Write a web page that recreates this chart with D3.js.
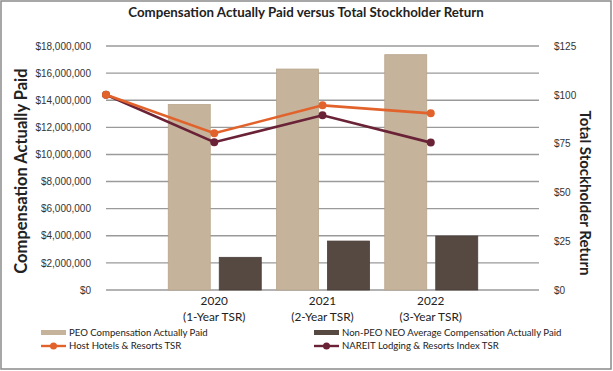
<!DOCTYPE html>
<html>
<head>
<meta charset="utf-8">
<script src="https://cdn.jsdelivr.net/npm/d3@7"></script>
<style>
  body { margin: 0; background: #fff; }
  svg { font-family: Lato, "Open Sans", sans-serif; }
  .grid line { stroke: #9a9a9a; stroke-width: 1.4; }
  .axis { color: #333; }
</style>
</head>
<body>
<svg id="chart" width="613" height="371"></svg>
<script>
// periods: index 0 is the starting point of the TSR lines (base $100)
const periods = ["", "2020", "2021", "2022"];
const periodNotes = ["", "(1-Year TSR)", "(2-Year TSR)", "(3-Year TSR)"];

const peoCap = [null, 13680000, 16300000, 17360000];
const neoCap = [null, 2410000, 3610000, 3980000];
const hostTsr = [100, 80.3, 94.6, 90.5];
const nareitTsr = [100, 75.7, 89.5, 75.5];

const leftTicks = d3.range(0, 18000001, 2000000);
const rightTicks = [0, 25, 50, 75, 100, 125];

const colors = {
  peo: "#c5b39c",
  neo: "#564942",
  host: "#e2622b",
  nareit: "#6a2236"
};

const svg = d3.select("#chart"),
  margin = { top: 46, right: 74, bottom: 81, left: 106 },
  width = +svg.attr("width") - margin.left - margin.right,
  height = +svg.attr("height") - margin.top - margin.bottom;

// outer frame
svg.append("rect")
  .attr("x", 1).attr("y", 1)
  .attr("width", 610).attr("height", 368)
  .attr("fill", "none")
  .attr("stroke", "#8a8a8a")
  .attr("stroke-width", 1.5);

svg.append("text")
  .attr("x", 306).attr("y", 17)
  .attr("text-anchor", "middle")
  .style("font-weight", "bold")
  .style("font-size", "13.3px")
  .attr("fill", "#222")
  .text("Compensation Actually Paid versus Total Stockholder Return");

const g = svg.append("g")
  .attr("transform", "translate(" + margin.left + "," + margin.top + ")");

const x = d3.scaleLinear().domain([0, 4]).range([0, width]);
const y = d3.scaleLinear().domain([0, 18000000]).range([height, 0]);
const y2 = d3.scaleLinear().domain([0, 125]).range([height, 0]);

g.append("g")
  .attr("class", "grid")
  .selectAll("line")
  .data(leftTicks)
  .enter()
  .append("line")
  .attr("x1", 0)
  .attr("x2", width)
  .attr("y1", (d) => y(d))
  .attr("y2", (d) => y(d));

g.append("g")
  .attr("class", "axis y")
  .attr("transform", "translate(-12,0)")
  .call(d3.axisLeft(y).tickValues(leftTicks).tickSize(0)
    .tickFormat((d) => "$" + d3.format(",")(d)))
  .call((a) => a.select(".domain").remove());

g.append("g")
  .attr("class", "axis y2")
  .attr("transform", "translate(" + (width + 12) + ",0)")
  .call(d3.axisRight(y2).tickValues(rightTicks).tickSize(0)
    .tickFormat((d) => "$" + d))
  .call((a) => a.select(".domain").remove());

g.selectAll(".axis text")
  .attr("font-family", null)
  .attr("font-size", null)
  .style("font-size", "10px");

// bars
const barW = 42;
const idx = [1, 2, 3];
g.append("g")
  .selectAll("rect")
  .data(idx)
  .enter()
  .append("rect")
  .attr("x", (i) => x(i) - 46)
  .attr("y", (i) => y(peoCap[i]))
  .attr("width", barW)
  .attr("height", (i) => height - y(peoCap[i]))
  .attr("fill", colors.peo)
  .attr("stroke", "#b9a68d")
  .attr("stroke-width", 0.8);

g.append("g")
  .selectAll("rect")
  .data(idx)
  .enter()
  .append("rect")
  .attr("x", (i) => x(i) + 5)
  .attr("y", (i) => y(neoCap[i]))
  .attr("width", barW)
  .attr("height", (i) => height - y(neoCap[i]))
  .attr("fill", colors.neo)
  .attr("stroke", "#4a3e38")
  .attr("stroke-width", 0.8);

// TSR lines
const line = d3.line()
  .x((d, i) => x(i))
  .y((d) => y2(d));

[[nareitTsr, colors.nareit], [hostTsr, colors.host]].forEach(([vals, c]) => {
  g.append("path")
    .datum(vals)
    .attr("fill", "none")
    .attr("stroke", c)
    .attr("stroke-width", 2.6)
    .attr("d", line);
  g.append("g")
    .selectAll("circle")
    .data(vals)
    .enter()
    .append("circle")
    .attr("cx", (d, i) => x(i))
    .attr("cy", (d) => y2(d))
    .attr("r", 4)
    .attr("fill", c);
});

// category labels
const cat = g.append("g").attr("class", "cats");
idx.forEach((i) => {
  const t = cat.append("text")
    .attr("x", x(i))
    .attr("y", height + 15)
    .attr("text-anchor", "middle")
    .style("font-size", "11.8px")
    .attr("fill", "#222");
  t.append("tspan").attr("x", x(i)).text(periods[i]);
  t.append("tspan").attr("x", x(i)).attr("dy", 16).text(periodNotes[i]);
});

// axis titles
svg.append("text")
  .attr("transform", "translate(27," + (margin.top + height / 2 + 3) + ") rotate(-90)")
  .attr("text-anchor", "middle")
  .style("font-weight", "bold")
  .style("font-size", "16.5px")
  .attr("fill", "#222")
  .text("Compensation Actually Paid");

svg.append("text")
  .attr("transform", "translate(580,193) rotate(90)")
  .attr("text-anchor", "middle")
  .style("font-weight", "bold")
  .style("font-size", "15px")
  .attr("fill", "#222")
  .text("Total Stockholder Return");

// legend
const legendItems = [
  { label: "PEO Compensation Actually Paid", type: "bar", color: colors.peo, x: 41, y: 333 },
  { label: "Non-PEO NEO Average Compensation Actually Paid", type: "bar", color: colors.neo, x: 314, y: 333 },
  { label: "Host Hotels & Resorts TSR", type: "line", color: colors.host, x: 41, y: 346 },
  { label: "NAREIT Lodging & Resorts Index TSR", type: "line", color: colors.nareit, x: 314, y: 346 }
];

const lg = svg.append("g").attr("class", "legend")
  .selectAll("g")
  .data(legendItems)
  .enter()
  .append("g")
  .attr("transform", (d) => "translate(" + d.x + "," + d.y + ")");

lg.filter((d) => d.type === "bar")
  .append("rect")
  .attr("x", 0).attr("y", -3)
  .attr("width", 25).attr("height", 5)
  .attr("fill", (d) => d.color);

lg.filter((d) => d.type === "line")
  .append("line")
  .attr("x1", 0).attr("x2", 25)
  .attr("stroke", (d) => d.color)
  .attr("stroke-width", 2.4);

lg.filter((d) => d.type === "line")
  .append("circle")
  .attr("cx", 12.5).attr("r", 3.5)
  .attr("fill", (d) => d.color);

lg.append("text")
  .attr("x", 28)
  .attr("dy", "0.35em")
  .style("font-size", "9.6px")
  .attr("fill", "#222")
  .text((d) => d.label);
</script>
</body>
</html>
